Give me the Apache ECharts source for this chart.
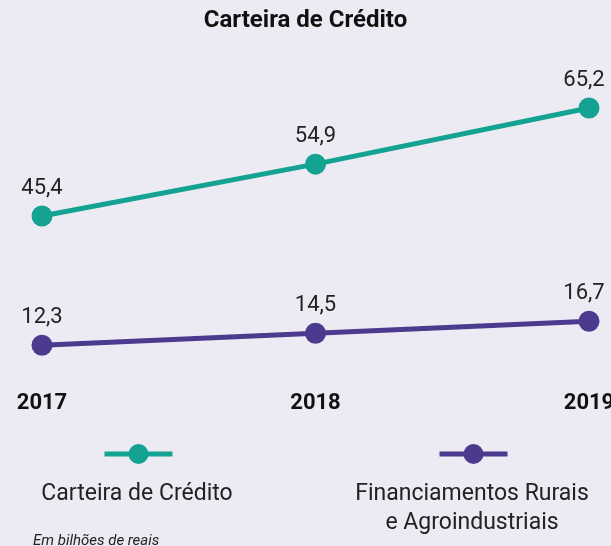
<!DOCTYPE html>
<html>
<head>
<meta charset="utf-8">
<script src="https://cdn.jsdelivr.net/npm/echarts@6/dist/echarts.min.js"></script>
<style>
  html, body { margin: 0; padding: 0; background: #ecebf3; }
  #main { width: 611px; height: 546px; }
</style>
</head>
<body>
<div id="main"></div>
<script>
var anos = ['2017', '2018', '2019'];
var carteira = [45.4, 54.9, 65.2];
var financiamentos = [12.3, 14.5, 16.7];
var nomes = ['Carteira de Crédito', 'Financiamentos Rurais\ne Agroindustriais'];

var dom = document.getElementById('main');
var myChart = echarts.init(dom);

var FONTE = 'Roboto, "Noto Sans", sans-serif';

function rotulo(v) {
    return v.value.toFixed(1).replace('.', ',');
}

// last label is pulled a little left so it stays inside the canvas
function pontos(valores) {
    return valores.map(function (v, i) {
        if (i === valores.length - 1) {
            return { value: v, label: { offset: [-5, 0] } };
        }
        return v;
    });
}

var option = {
    backgroundColor: '#ecebf3',
    animation: false,
    textStyle: { fontFamily: FONTE },
    title: [{
        text: 'Carteira de Crédito',
        left: 'center',
        top: 9,
        padding: 0,
        textStyle: { fontSize: 24, fontWeight: 'bold', color: '#111', fontFamily: FONTE }
    }, {
        text: nomes[0],
        left: 137,
        top: 480,
        padding: 0,
        textAlign: 'center',
        textStyle: { fontSize: 23, fontWeight: 'normal', color: '#222', lineHeight: 29, fontFamily: FONTE }
    }, {
        text: nomes[1],
        left: 472,
        top: 480,
        padding: 0,
        textAlign: 'center',
        textStyle: { fontSize: 23, fontWeight: 'normal', color: '#222', lineHeight: 29, fontFamily: FONTE }
    }, {
        text: 'Em bilhões de reais',
        left: 33,
        top: 534,
        padding: 0,
        textStyle: { fontSize: 15, fontWeight: 'normal', fontStyle: 'italic', color: '#222', fontFamily: FONTE }
    }],
    legend: [{
        data: [nomes[0]],
        left: 102,
        top: 441.5,
        padding: 0,
        itemWidth: 68,
        itemHeight: 25,
        lineStyle: { width: 5 },
        formatter: function () { return ''; },
        selectedMode: false
    }, {
        data: [nomes[1]],
        left: 437,
        top: 441.5,
        padding: 0,
        itemWidth: 68,
        itemHeight: 25,
        lineStyle: { width: 5 },
        formatter: function () { return ''; },
        selectedMode: false
    }],
    grid: { left: 42, right: 22, top: 30.5, bottom: 150, containLabel: false, outerBoundsMode: 'none' },
    xAxis: {
        type: 'category',
        data: anos,
        boundaryGap: false,
        axisLine: { show: false },
        axisTick: { show: false },
        axisLabel: { margin: -4, fontSize: 22, fontWeight: 'bold', color: '#111', fontFamily: FONTE }
    },
    // two value axes with the same px per unit, offset so both lines sit as in the source
    yAxis: [{
        type: 'value',
        min: 3,
        max: 70,
        show: false,
        splitLine: { show: false }
    }, {
        type: 'value',
        min: 12.4,
        max: 79.4,
        show: false,
        splitLine: { show: false }
    }],
    series: [{
        name: nomes[0],
        type: 'line',
        yAxisIndex: 1,
        data: pontos(carteira),
        symbol: 'circle',
        symbolSize: 21,
        color: '#14a393',
        lineStyle: { width: 5, color: '#14a393' },
        label: {
            show: true, position: 'top', distance: 6,
            fontSize: 22, color: '#222', fontFamily: FONTE, formatter: rotulo
        }
    }, {
        name: nomes[1],
        type: 'line',
        yAxisIndex: 0,
        data: pontos(financiamentos),
        symbol: 'circle',
        symbolSize: 21,
        color: '#4b3a8e',
        lineStyle: { width: 5, color: '#4b3a8e' },
        label: {
            show: true, position: 'top', distance: 6,
            fontSize: 22, color: '#222', fontFamily: FONTE, formatter: rotulo
        }
    }]
};

myChart.setOption(option);
</script>
</body>
</html>
